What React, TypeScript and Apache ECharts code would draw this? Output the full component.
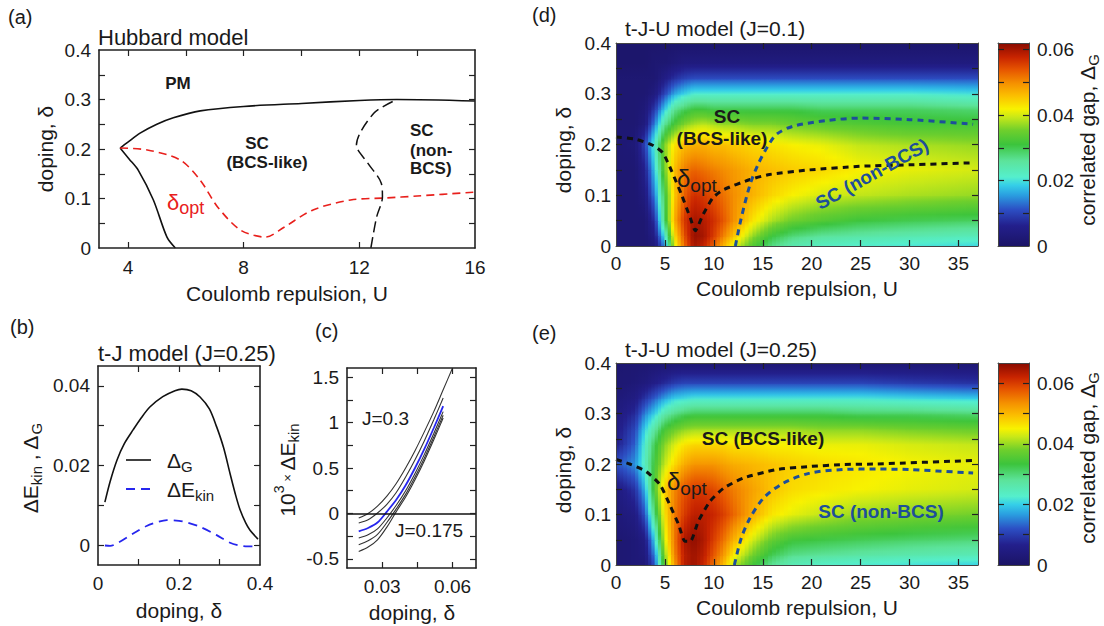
import React, { useEffect, useRef } from 'react';
import * as echarts from 'echarts';

const FONT = '"Liberation Sans", Arial, Helvetica, sans-serif';
const INK = '#1a1a1a';
const RED = '#e8201c';
const BLUE_B = '#2626ee';
const BLUE_D = '#1d4f9a';

// ---------- Panel (a): Hubbard model phase diagram
const A_PM_U = [3.73, 4.0, 4.42, 5.0, 5.57, 6.5, 8, 10, 12, 13.3, 16];
const A_PM_D = [0.202, 0.214, 0.232, 0.25, 0.263, 0.277, 0.286, 0.292, 0.298, 0.3, 0.297];
const A_LEFT_U = [3.73, 4.04, 4.36, 4.88, 5.35, 5.64];
const A_LEFT_D = [0.202, 0.18, 0.157, 0.097, 0.022, 0];
const A_OPT_U = [3.73, 4.67, 5.8, 6.5, 7.1, 7.9, 8.76, 9.4, 10.4, 11.7, 12.9, 14, 16];
const A_OPT_D = [0.202, 0.198, 0.178, 0.137, 0.083, 0.036, 0.022, 0.042, 0.077, 0.097, 0.101, 0.105, 0.113];
const A_SPLIT_U = [12.4, 12.6, 12.8, 12.76, 12.3, 11.9, 12.5, 13.3];
const A_SPLIT_D = [0, 0.063, 0.103, 0.131, 0.171, 0.208, 0.272, 0.3];
const A_X_LABELS = [4, 8, 12, 16];
const A_X_TICKS_BOTTOM = [4, 8, 12];
const A_X_TICKS_TOP = [4, 6, 8, 10, 12, 14];
const A_Y_LABELS = [0, 0.1, 0.2, 0.3, 0.4];
const A_Y_TICKS = [0.05, 0.1, 0.15, 0.2, 0.25, 0.3, 0.35];

// ---------- Panel (b): t-J model (J=0.25)
const B_GAP_X = [0.017, 0.03, 0.047, 0.065, 0.087, 0.107, 0.128, 0.16, 0.19, 0.207, 0.23, 0.252, 0.275, 0.293, 0.31, 0.326, 0.34, 0.351, 0.365, 0.375, 0.395];
const B_GAP_Y = [0.0108, 0.016, 0.0214, 0.0255, 0.029, 0.032, 0.0347, 0.0373, 0.0388, 0.0392, 0.0388, 0.0372, 0.0342, 0.0297, 0.0245, 0.018, 0.0125, 0.0088, 0.0055, 0.0038, 0.0015];
const B_EKIN_X = [0.017, 0.03, 0.05, 0.087, 0.12, 0.15, 0.17, 0.2, 0.22, 0.252, 0.293, 0.326, 0.35, 0.37, 0.395];
const B_EKIN_Y = [-0.0001, -0.0002, 0.0006, 0.0029, 0.0048, 0.0059, 0.0063, 0.0061, 0.0057, 0.0046, 0.0025, 0.0006, -0.0001, -0.0003, -0.0003];
const B_X_LABELS = [0, 0.2, 0.4];
const B_X_TICKS = [0.1, 0.2, 0.3];
const B_Y_LABELS = [0, 0.02, 0.04];
const B_Y_TICKS = [0, 0.01, 0.02, 0.03, 0.04];

// ---------- Panel (c): 10^3 x dE_kin for several J
const C_X = [0.02, 0.024, 0.028, 0.032, 0.036, 0.04, 0.044, 0.048, 0.052, 0.056];
const C_J = ['0.3', '0.275', '0.25', '0.225', '0.2', '0.175'];
const C_EKIN = [
  [-0.05, 0.0, 0.08, 0.19, 0.33, 0.5, 0.69, 0.9, 1.12, 1.36],
  [-0.104, -0.07, 0.005, 0.1, 0.23, 0.4, 0.59, 0.8, 1.03, 1.27],
  [-0.196, -0.16, -0.1, 0.02, 0.15, 0.31, 0.5, 0.71, 0.94, 1.18],
  [-0.27, -0.235, -0.17, -0.05, 0.09, 0.25, 0.44, 0.65, 0.88, 1.12],
  [-0.344, -0.3, -0.23, -0.1, 0.05, 0.21, 0.4, 0.61, 0.84, 1.08],
  [-0.419, -0.37, -0.29, -0.15, 0.02, 0.18, 0.37, 0.58, 0.81, 1.05],
];
const C_TAIL_X = [0.06]; // J=0.3 continues to the frame top
const C_TAIL_Y = [1.6];
const C_X_LABELS = [0.03, 0.06];
const C_X_TICKS = [0.03, 0.045, 0.06];
const C_Y_LABELS = [-0.5, 0, 0.5, 1, 1.5];
const C_Y_TICKS = [-0.5, -0.25, 0, 0.25, 0.5, 0.75, 1, 1.25, 1.5];

// ---------- Panels (d), (e): correlated gap maps
const HEAT_U = [0, 2, 3, 4, 5, 6, 7, 8, 9, 10, 11, 12, 14, 16, 18, 21, 25, 30, 37];
const HEAT_D = [0, 0.02, 0.05, 0.1, 0.15, 0.2, 0.24, 0.27, 0.3, 0.33, 0.36, 0.4];
// rows follow HEAT_D (bottom to top), columns follow HEAT_U
const GAP_J01 = [
  [0.002, 0.002, 0.002, 0.003, 0.014, 0.04, 0.052, 0.06, 0.058, 0.053, 0.047, 0.041, 0.033, 0.027, 0.024, 0.022, 0.021, 0.02, 0.019],
  [0.002, 0.002, 0.002, 0.005, 0.02, 0.043, 0.054, 0.061, 0.06, 0.056, 0.051, 0.046, 0.037, 0.031, 0.028, 0.026, 0.025, 0.024, 0.023],
  [0.002, 0.002, 0.002, 0.008, 0.028, 0.047, 0.056, 0.06, 0.059, 0.057, 0.054, 0.05, 0.043, 0.038, 0.035, 0.033, 0.031, 0.03, 0.029],
  [0.002, 0.002, 0.004, 0.014, 0.03, 0.045, 0.053, 0.057, 0.056, 0.054, 0.052, 0.05, 0.047, 0.044, 0.042, 0.04, 0.039, 0.038, 0.037],
  [0.002, 0.002, 0.006, 0.018, 0.035, 0.046, 0.051, 0.053, 0.052, 0.051, 0.05, 0.049, 0.047, 0.046, 0.045, 0.044, 0.042, 0.041, 0.04],
  [0.002, 0.003, 0.01, 0.022, 0.036, 0.043, 0.046, 0.047, 0.047, 0.046, 0.046, 0.045, 0.044, 0.043, 0.042, 0.041, 0.039, 0.038, 0.037],
  [0.002, 0.002, 0.004, 0.014, 0.026, 0.032, 0.036, 0.038, 0.039, 0.038, 0.037, 0.037, 0.036, 0.036, 0.035, 0.034, 0.033, 0.032, 0.032],
  [0.002, 0.002, 0.003, 0.009, 0.018, 0.026, 0.029, 0.031, 0.031, 0.03, 0.03, 0.03, 0.03, 0.03, 0.03, 0.029, 0.029, 0.029, 0.028],
  [0.002, 0.002, 0.002, 0.004, 0.01, 0.016, 0.019, 0.021, 0.021, 0.021, 0.021, 0.021, 0.021, 0.021, 0.021, 0.021, 0.021, 0.021, 0.02],
  [0.002, 0.002, 0.002, 0.002, 0.005, 0.008, 0.01, 0.011, 0.011, 0.011, 0.011, 0.011, 0.011, 0.011, 0.011, 0.011, 0.011, 0.011, 0.011],
  [0.001, 0.001, 0.001, 0.002, 0.002, 0.003, 0.004, 0.004, 0.004, 0.004, 0.004, 0.004, 0.004, 0.004, 0.004, 0.004, 0.004, 0.004, 0.004],
  [0.001, 0.001, 0.001, 0.001, 0.001, 0.001, 0.001, 0.001, 0.001, 0.001, 0.001, 0.001, 0.001, 0.001, 0.001, 0.001, 0.001, 0.001, 0.001],
];
const GAP_J025 = [
  [0.002, 0.003, 0.003, 0.012, 0.036, 0.052, 0.063, 0.065, 0.062, 0.056, 0.05, 0.042, 0.034, 0.028, 0.025, 0.023, 0.022, 0.021, 0.02],
  [0.002, 0.003, 0.004, 0.015, 0.039, 0.054, 0.063, 0.065, 0.063, 0.058, 0.053, 0.046, 0.038, 0.032, 0.029, 0.028, 0.027, 0.026, 0.025],
  [0.002, 0.003, 0.005, 0.02, 0.043, 0.055, 0.064, 0.066, 0.064, 0.06, 0.056, 0.051, 0.043, 0.037, 0.034, 0.033, 0.032, 0.031, 0.03],
  [0.003, 0.005, 0.012, 0.03, 0.046, 0.055, 0.06, 0.063, 0.063, 0.062, 0.06, 0.057, 0.051, 0.046, 0.044, 0.042, 0.04, 0.039, 0.038],
  [0.004, 0.009, 0.018, 0.036, 0.048, 0.054, 0.058, 0.06, 0.06, 0.059, 0.057, 0.055, 0.052, 0.049, 0.047, 0.046, 0.045, 0.044, 0.043],
  [0.012, 0.016, 0.024, 0.034, 0.042, 0.047, 0.051, 0.053, 0.053, 0.053, 0.052, 0.051, 0.05, 0.049, 0.048, 0.047, 0.046, 0.045, 0.044],
  [0.006, 0.013, 0.023, 0.032, 0.039, 0.043, 0.046, 0.047, 0.047, 0.047, 0.047, 0.046, 0.046, 0.045, 0.045, 0.044, 0.044, 0.043, 0.042],
  [0.005, 0.011, 0.02, 0.027, 0.034, 0.037, 0.039, 0.04, 0.04, 0.04, 0.04, 0.04, 0.04, 0.04, 0.04, 0.039, 0.039, 0.038, 0.037],
  [0.004, 0.008, 0.015, 0.02, 0.026, 0.029, 0.031, 0.032, 0.032, 0.032, 0.032, 0.032, 0.032, 0.032, 0.032, 0.032, 0.031, 0.031, 0.03],
  [0.003, 0.005, 0.009, 0.013, 0.017, 0.02, 0.021, 0.022, 0.022, 0.022, 0.022, 0.022, 0.022, 0.022, 0.022, 0.022, 0.022, 0.021, 0.02],
  [0.002, 0.003, 0.004, 0.006, 0.008, 0.01, 0.011, 0.011, 0.011, 0.011, 0.011, 0.011, 0.011, 0.011, 0.011, 0.011, 0.011, 0.01, 0.009],
  [0.002, 0.002, 0.002, 0.002, 0.002, 0.002, 0.002, 0.002, 0.002, 0.002, 0.002, 0.002, 0.002, 0.002, 0.002, 0.002, 0.002, 0.002, 0.002],
];
const GAP_MAX_D = 0.062;
const GAP_MAX_E = 0.0667;
// delta_opt and BCS / non-BCS boundary, panel (d)
const D_OPT_U = [0, 2.1, 3.8, 4.8, 5.7, 6.7, 7.6, 8.1, 8.9, 9.9, 11, 13.7, 15.7, 19.8, 24.9, 30, 36.5];
const D_OPT_D = [0.215, 0.21, 0.198, 0.183, 0.147, 0.101, 0.055, 0.03, 0.062, 0.095, 0.111, 0.131, 0.141, 0.15, 0.157, 0.16, 0.164];
const D_SPLIT_U = [12.2, 12.8, 13.7, 14.5, 15.4, 16.4, 18.1, 21.5, 24.9, 30, 36.5];
const D_SPLIT_D = [0, 0.055, 0.121, 0.16, 0.193, 0.22, 0.236, 0.247, 0.252, 0.249, 0.24];
// panel (e)
const E_OPT_U = [0, 1.4, 3.1, 4.5, 5.5, 6.4, 7.05, 7.6, 8.4, 9.6, 11, 13, 16.4, 19.8, 23.2, 26.6, 36.5];
const E_OPT_D = [0.209, 0.2, 0.185, 0.159, 0.119, 0.08, 0.047, 0.047, 0.086, 0.126, 0.152, 0.172, 0.189, 0.195, 0.199, 0.2, 0.207];
const E_SPLIT_U = [12.1, 12.8, 13.7, 15.1, 17.1, 19.8, 23.2, 26.6, 30, 36.5];
const E_SPLIT_D = [0, 0.053, 0.093, 0.133, 0.162, 0.182, 0.189, 0.19, 0.189, 0.182];
const H_X_LABELS = [0, 5, 10, 15, 20, 25, 30, 35];
const H_X_TICKS = [5, 10, 15, 20, 25, 30, 35];
const H_Y_LABELS = [0, 0.1, 0.2, 0.3, 0.4];
const H_Y_TICKS = [0.05, 0.1, 0.15, 0.2, 0.25, 0.3, 0.35];
const CB_LABELS = [0, 0.02, 0.04, 0.06];
const CB_TICKS = [0.01, 0.02, 0.03, 0.04, 0.05, 0.06];

// jet-like colour map (t in 0..1)
const COLOR_STOPS: [number, string][] = [
  [0, '#1b1466'], [0.1, '#231f8c'], [0.18, '#2c4fc4'], [0.25, '#2a9ee0'], [0.3, '#35cfe8'],
  [0.34, '#55efcc'], [0.42, '#5ce39a'], [0.5, '#3cc43c'], [0.57, '#6fcf2c'], [0.635, '#c8e818'],
  [0.675, '#f8f200'], [0.74, '#fbbf00'], [0.8, '#f59200'], [0.87, '#e65400'], [0.93, '#c82400'], [1, '#870a00'],
];

const hexRgb = (h: string) => [parseInt(h.slice(1, 3), 16), parseInt(h.slice(3, 5), 16), parseInt(h.slice(5, 7), 16)];
const STOPS_RGB = COLOR_STOPS.map(([t, c]) => [t, hexRgb(c)] as [number, number[]]);
function cmap(t: number) {
  const x = Math.max(0, Math.min(1, t));
  for (let k = 0; k < STOPS_RGB.length - 1; k++) {
    const [t0, c0] = STOPS_RGB[k];
    const [t1, c1] = STOPS_RGB[k + 1];
    if (x <= t1) {
      const f = (x - t0) / (t1 - t0);
      return `rgb(${Math.round(c0[0] + (c1[0] - c0[0]) * f)},${Math.round(c0[1] + (c1[1] - c0[1]) * f)},${Math.round(c0[2] + (c1[2] - c0[2]) * f)})`;
    }
  }
  return COLOR_STOPS[COLOR_STOPS.length - 1][1];
}

const pairs = (xs: number[], ys: number[]) => xs.map((x, i) => [x, ys[i]]);
const fmt = (v: any) => String(parseFloat(Number(v).toPrecision(6)));

// text measuring for sub/superscripts
let mctx: any = null;
function textW(t: string, size: number, weight = 'normal') {
  if (!mctx) mctx = document.createElement('canvas').getContext('2d');
  mctx.font = `${weight} ${size}px ${FONT}`;
  return mctx.measureText(t).width;
}
function txt(text: string, x: number, y: number, o: any = {}) {
  return {
    type: 'text', x, y, rotation: o.rotation || 0, silent: true, z: 100,
    style: {
      text, fontSize: o.size || 21, fontFamily: FONT, fontWeight: o.weight || 'normal', fill: o.fill || INK,
      textAlign: o.align || 'left', align: o.align || 'left', textVerticalAlign: 'middle', verticalAlign: 'middle',
    },
  };
}
function row(parts: any[], x: number, y: number, o: any = {}) {
  const widths = parts.map((p) => textW(p.t, p.s, p.w || 'normal'));
  const total = widths.reduce((a, b) => a + b, 0);
  let cx = o.align === 'center' ? -total / 2 : 0;
  const children = parts.map((p, i) => {
    const el = txt(p.t, cx, p.dy || 0, { size: p.s, weight: p.w, fill: o.fill });
    cx += widths[i];
    return el;
  });
  return { type: 'group', x, y, rotation: o.rotation || 0, silent: true, z: 100, children };
}

// ----- axes helpers
const xAxes: any[] = [];
const yAxes: any[] = [];
function frame(gi: number, x: any, y: any, st: any) {
  const line = { show: true, onZero: false, lineStyle: { color: st.line, width: st.lw } };
  const tick = (vals: number[]) => ({ show: true, inside: true, length: 6, customValues: vals, lineStyle: { color: st.tick, width: 1.2 } });
  const lab = (vals: number[] | undefined, margin: number) =>
    vals ? { show: true, customValues: vals, formatter: fmt, margin, fontSize: 19, color: INK, fontFamily: FONT } : { show: false };
  const xi = xAxes.length;
  const yi = yAxes.length;
  xAxes.push(
    { gridIndex: gi, type: 'value', position: 'bottom', min: x.min, max: x.max, z: 5, splitLine: { show: false }, axisLine: line, axisTick: x.ticks ? tick(x.ticks) : { show: false }, axisLabel: lab(x.labels, x.margin || 9) },
    { gridIndex: gi, type: 'value', position: 'top', min: x.min, max: x.max, z: 5, splitLine: { show: false }, axisLine: line, axisTick: x.topTicks ? tick(x.topTicks) : { show: false }, axisLabel: { show: false } },
  );
  yAxes.push(
    { gridIndex: gi, type: 'value', position: 'left', min: y.min, max: y.max, z: 5, splitLine: { show: false }, axisLine: line, axisTick: y.ticks ? tick(y.ticks) : { show: false }, axisLabel: y.rightLabels ? { show: false } : lab(y.labels, y.margin || 8) },
    { gridIndex: gi, type: 'value', position: 'right', min: y.min, max: y.max, z: 5, splitLine: { show: false }, axisLine: line, axisTick: y.ticks ? tick(y.ticks) : { show: false }, axisLabel: y.rightLabels ? lab(y.labels, y.margin || 8) : { show: false } },
  );
  return { xi, yi };
}

function heatCells(g: number[][]) {
  const out: number[][] = [];
  for (let j = 0; j < HEAT_D.length - 1; j++)
    for (let i = 0; i < HEAT_U.length - 1; i++)
      out.push([HEAT_U[i], HEAT_U[i + 1], HEAT_D[j], HEAT_D[j + 1], g[j][i], g[j][i + 1], g[j + 1][i], g[j + 1][i + 1]]);
  return out;
}
function heatRender(vmax: number) {
  return (params: any, api: any) => {
    const u0 = api.value(0), u1 = api.value(1), d0 = api.value(2), d1 = api.value(3);
    const v00 = api.value(4), v10 = api.value(5), v01 = api.value(6), v11 = api.value(7);
    const pA = api.coord([u0, d1]);
    const pB = api.coord([u1, d0]);
    const w = pB[0] - pA[0];
    const h = pB[1] - pA[1];
    const n = Math.max(1, Math.ceil(w / 4));
    const children: any[] = [];
    for (let k = 0; k < n; k++) {
      const fm = (k + 0.5) / n;
      const vb = v00 + (v10 - v00) * fm;
      const vt = v01 + (v11 - v01) * fm;
      const stops = [0, 0.25, 0.5, 0.75, 1].map((f) => ({ offset: f, color: cmap((vt + (vb - vt) * f) / vmax) }));
      children.push({
        type: 'rect',
        shape: { x: pA[0] + (w * k) / n - 0.5, y: pA[1] - 0.5, width: w / n + 1.2, height: h + 1.2 },
        style: { fill: new echarts.graphic.LinearGradient(0, 0, 0, 1, stops), stroke: null },
      });
    }
    return { type: 'group', children };
  };
}
function colorbarRender(params: any, api: any) {
  const a = api.coord([0, api.value(1)]);
  const b = api.coord([1, api.value(0)]);
  return {
    type: 'rect',
    shape: { x: a[0], y: a[1], width: b[0] - a[0], height: b[1] - a[1] },
    style: { fill: new echarts.graphic.LinearGradient(0, 1, 0, 0, COLOR_STOPS.map(([t, c]) => ({ offset: t, color: c }))) },
  };
}

function buildOption() {
  xAxes.length = 0;
  yAxes.length = 0;
  const grids = [
    { left: 99, top: 50, width: 376, height: 198 },
    { left: 98, top: 366, width: 162, height: 199 },
    { left: 347, top: 368, width: 129, height: 200 },
    { left: 616, top: 43, width: 362, height: 203 },
    { left: 998, top: 43, width: 31, height: 203 },
    { left: 616, top: 363, width: 362, height: 202 },
    { left: 998, top: 363, width: 31, height: 202 },
  ].map((g) => ({ ...g, containLabel: false, outerBoundsMode: 'none', show: false }));

  const plotSt = { line: '#222', lw: 1.6, tick: '#222' };
  const heatSt = { line: '#444', lw: 1, tick: '#222' };
  const a = frame(0, { min: 3, max: 16, labels: A_X_LABELS, ticks: A_X_TICKS_BOTTOM, topTicks: A_X_TICKS_TOP, margin: 10 }, { min: 0, max: 0.4, labels: A_Y_LABELS, ticks: A_Y_TICKS, margin: 8 }, plotSt);
  const b = frame(1, { min: 0, max: 0.4, labels: B_X_LABELS, ticks: B_X_TICKS, topTicks: B_X_TICKS, margin: 9 }, { min: -0.005, max: 0.045, labels: B_Y_LABELS, ticks: B_Y_TICKS, margin: 8 }, plotSt);
  const c = frame(2, { min: 0.015, max: 0.07, labels: C_X_LABELS, ticks: C_X_TICKS, topTicks: C_X_TICKS, margin: 9 }, { min: -0.6, max: 1.6, labels: C_Y_LABELS, ticks: C_Y_TICKS, margin: 8 }, plotSt);
  const d = frame(3, { min: 0, max: 37, labels: H_X_LABELS, ticks: H_X_TICKS, topTicks: H_X_TICKS, margin: 8 }, { min: 0, max: 0.4, labels: H_Y_LABELS, ticks: H_Y_TICKS, margin: 5 }, heatSt);
  const dc = frame(4, { min: 0, max: 1 }, { min: 0, max: GAP_MAX_D, labels: CB_LABELS, ticks: CB_TICKS, rightLabels: true, margin: 8 }, heatSt);
  const e = frame(5, { min: 0, max: 37, labels: H_X_LABELS, ticks: H_X_TICKS, topTicks: H_X_TICKS, margin: 8 }, { min: 0, max: 0.4, labels: H_Y_LABELS, ticks: H_Y_TICKS, margin: 5 }, heatSt);
  const ec = frame(6, { min: 0, max: 1 }, { min: 0, max: GAP_MAX_E, labels: CB_LABELS, ticks: CB_TICKS, rightLabels: true, margin: 8 }, heatSt);

  const ln = (ax: any, data: number[][], color: string, width: number, type: any, z = 3, extra: any = {}) => ({
    type: 'line', xAxisIndex: ax.xi, yAxisIndex: ax.yi, data, showSymbol: false, symbol: 'none', smooth: 0.3,
    lineStyle: { color, width, type }, z, silent: true, clip: true, ...extra,
  });

  const series: any[] = [
    ln(a, pairs(A_PM_U, A_PM_D), '#111', 1.6, 'solid'),
    ln(a, pairs(A_LEFT_U, A_LEFT_D), '#111', 1.6, 'solid'),
    ln(a, pairs(A_OPT_U, A_OPT_D), RED, 1.6, [8, 5]),
    ln(a, pairs(A_SPLIT_U, A_SPLIT_D), '#111', 1.5, [11, 5]),
    ln(b, pairs(B_GAP_X, B_GAP_Y), '#111', 1.6, 'solid'),
    ln(b, pairs(B_EKIN_X, B_EKIN_Y), BLUE_B, 1.8, [9, 6]),
  ];
  C_EKIN.forEach((vals, k) => {
    const xs = k === 0 ? C_X.concat(C_TAIL_X) : C_X;
    const ys = k === 0 ? vals.concat(C_TAIL_Y) : vals;
    const isBlue = C_J[k] === '0.25';
    series.push(
      ln(c, pairs(xs, ys), isBlue ? BLUE_B : '#333', isBlue ? 1.8 : 1.1, 'solid', isBlue ? 4 : 3,
        k === 0 ? { markLine: { silent: true, symbol: ['none', 'none'], label: { show: false }, lineStyle: { color: '#111', width: 1.6, type: 'solid' }, data: [{ yAxis: 0 }] } } : {}),
    );
  });
  series.push(
    { type: 'custom', xAxisIndex: d.xi, yAxisIndex: d.yi, data: heatCells(GAP_J01), renderItem: heatRender(GAP_MAX_D), encode: { x: [0, 1], y: [2, 3] }, clip: true, z: 1, silent: true },
    ln(d, pairs(D_OPT_U, D_OPT_D), '#111', 3, [6, 5], 3, { smooth: 0.2 }),
    ln(d, pairs(D_SPLIT_U, D_SPLIT_D), BLUE_D, 3, [6, 5]),
    { type: 'custom', xAxisIndex: dc.xi, yAxisIndex: dc.yi, data: [[0, GAP_MAX_D]], renderItem: colorbarRender, encode: { y: [0, 1] }, z: 1, silent: true },
    { type: 'custom', xAxisIndex: e.xi, yAxisIndex: e.yi, data: heatCells(GAP_J025), renderItem: heatRender(GAP_MAX_E), encode: { x: [0, 1], y: [2, 3] }, clip: true, z: 1, silent: true },
    ln(e, pairs(E_OPT_U, E_OPT_D), '#111', 3, [6, 5], 3, { smooth: 0.2 }),
    ln(e, pairs(E_SPLIT_U, E_SPLIT_D), BLUE_D, 3, [6, 5]),
    { type: 'custom', xAxisIndex: ec.xi, yAxisIndex: ec.yi, data: [[0, GAP_MAX_E]], renderItem: colorbarRender, encode: { y: [0, 1] }, z: 1, silent: true },
  );

  const R = Math.PI / 2;
  const elements: any[] = [
    // panel letters
    txt('(a)', 8, 17, { size: 20 }),
    txt('(b)', 10, 327, { size: 20 }),
    txt('(c)', 315, 331, { size: 20 }),
    txt('(d)', 532, 15, { size: 20 }),
    txt('(e)', 532, 333, { size: 20 }),
    // titles
    txt('Hubbard model', 98, 37, { size: 22 }),
    txt('t-J model (J=0.25)', 98, 353, { size: 22 }),
    txt('t-J-U model (J=0.1)', 625, 28, { size: 21 }),
    txt('t-J-U model (J=0.25)', 625, 349, { size: 21 }),
    // axis names
    txt('Coulomb repulsion, U', 287, 293, { align: 'center' }),
    txt('doping, δ', 45, 149, { align: 'center', rotation: R }),
    txt('doping, δ', 179, 610, { align: 'center' }),
    row([{ t: 'ΔE', s: 21 }, { t: 'kin', s: 15, dy: 6 }, { t: ' , Δ', s: 21 }, { t: 'G', s: 15, dy: 6 }], 30, 468, { align: 'center', rotation: R }),
    txt('doping, δ', 412, 612, { align: 'center' }),
    row([{ t: '10', s: 21 }, { t: '3', s: 14, dy: -8 }, { t: ' × ', s: 13 }, { t: 'ΔE', s: 21 }, { t: 'kin', s: 15, dy: 6 }], 287, 470, { align: 'center', rotation: R }),
    txt('doping, δ', 563, 150, { align: 'center', rotation: R }),
    txt('Coulomb repulsion, U', 797, 288, { align: 'center' }),
    txt('doping, δ', 563, 470, { align: 'center', rotation: R }),
    txt('Coulomb repulsion, U', 797, 607, { align: 'center' }),
    row([{ t: 'correlated gap, Δ', s: 21 }, { t: 'G', s: 15, dy: 6 }], 1087, 140, { align: 'center', rotation: R }),
    row([{ t: 'correlated gap, Δ', s: 21 }, { t: 'G', s: 15, dy: 6 }], 1087, 458, { align: 'center', rotation: R }),
    // panel (a) annotations
    txt('PM', 178, 83, { size: 17, weight: 'bold', align: 'center' }),
    txt('SC', 257, 143, { size: 17, weight: 'bold', align: 'center' }),
    txt('(BCS-like)', 267, 162, { size: 17, weight: 'bold', align: 'center' }),
    txt('SC', 410, 130, { size: 17, weight: 'bold' }),
    txt('(non-', 410, 150, { size: 17, weight: 'bold' }),
    txt('BCS)', 410, 168, { size: 17, weight: 'bold' }),
    row([{ t: 'δ', s: 22 }, { t: 'opt', s: 18, dy: 6 }], 167, 202, { fill: RED }),
    // panel (b) legend
    { type: 'line', z: 100, silent: true, shape: { x1: 126, y1: 460, x2: 151, y2: 460 }, style: { stroke: '#111', lineWidth: 1.6 } },
    row([{ t: 'Δ', s: 21 }, { t: 'G', s: 15, dy: 6 }], 167, 460),
    { type: 'line', z: 100, silent: true, shape: { x1: 126, y1: 489, x2: 151, y2: 489 }, style: { stroke: BLUE_B, lineWidth: 1.8, lineDash: [9, 6] } },
    row([{ t: 'ΔE', s: 21 }, { t: 'kin', s: 15, dy: 6 }], 167, 489),
    // panel (c) labels
    txt('J=' + C_J[0], 362, 418, { size: 19 }),
    txt('J=' + C_J[C_J.length - 1], 395, 530, { size: 19 }),
    // panel (d) annotations
    txt('SC', 727, 116, { size: 19, weight: 'bold', align: 'center' }),
    txt('(BCS-like)', 722, 138, { size: 19, weight: 'bold', align: 'center' }),
    row([{ t: 'δ', s: 24 }, { t: 'opt', s: 19, dy: 7 }], 677, 178),
    txt('SC (non-BCS)', 872, 174, { size: 19, weight: 'bold', align: 'center', fill: BLUE_D, rotation: 0.506 }),
    // panel (e) annotations
    txt('SC (BCS-like)', 763, 438, { size: 19, weight: 'bold', align: 'center' }),
    row([{ t: 'δ', s: 24 }, { t: 'opt', s: 19, dy: 7 }], 667, 481),
    txt('SC (non-BCS)', 881, 511, { size: 19, weight: 'bold', align: 'center', fill: BLUE_D }),
  ];

  return {
    animation: false,
    backgroundColor: '#ffffff',
    grid: grids,
    xAxis: xAxes,
    yAxis: yAxes,
    series,
    graphic: { elements },
  };
}

export default function App() {
  const ref = useRef<HTMLDivElement>(null);
  useEffect(() => {
    const chart = echarts.init(ref.current as HTMLDivElement, null, { renderer: 'svg' });
    chart.setOption(buildOption() as any);
    return () => chart.dispose();
  }, []);
  return <div ref={ref} style={{ position: 'fixed', left: 0, top: 0, width: 1104, height: 626, background: '#fff' }} />;
}
